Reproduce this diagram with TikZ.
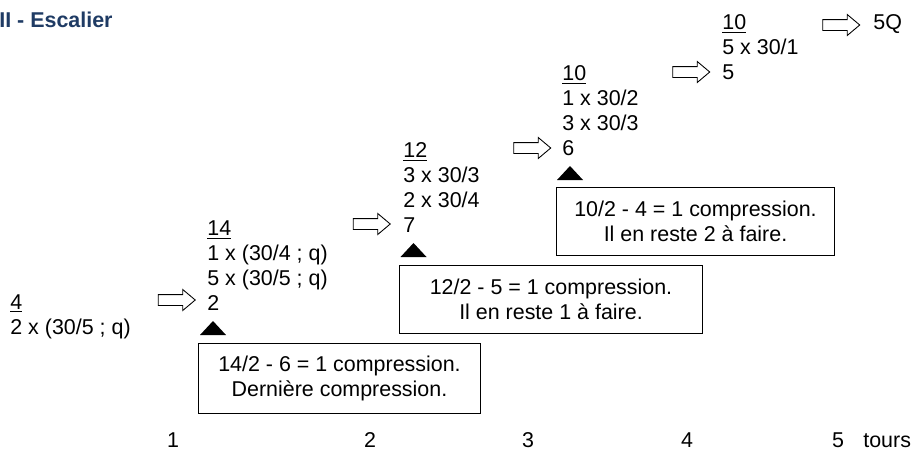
\documentclass[tikz,border=0pt]{standalone}
\usepackage{fontspec}
\setmainfont{Liberation Sans}
\usepackage{xcolor}
\usepackage{tikz}
\usetikzlibrary{arrows.meta,calc,positioning,shapes.arrows}
\definecolor{navy}{HTML}{1F3B64}
\definecolor{ink}{HTML}{000000}
\tikzset{
  every node/.style={font=\fontsize{12.2}{14.1}\selectfont,inner sep=0pt,text=ink},
  col/.style={align=left,anchor=base west},
  fl/.style={single arrow,draw=ink,line width=0.5pt,fill=white,minimum height=0.74cm,
    inner xsep=0pt,inner ysep=0.1cm,single arrow head extend=0.1cm,single arrow tip angle=80},
  note/.style={draw=ink,line width=0.6pt,align=center,anchor=north west,minimum height=1.36cm},
}
\begin{document}
\begin{tikzpicture}[x=0.02cm,y=-0.02cm,
  tick/.style={anchor=base},
  ttl/.style={anchor=base west,font=\fontsize{12.2}{13}\selectfont\bfseries,text=navy}]
  \useasboundingbox (0,0) rectangle (920,450);
  \node[ttl] (title) at (-1,27) {II - Escalier};
  % columns (anchored at the baseline of their last line)
  \node[col] (c1) at (10,334) {\underline{4}\\2 x (30/5 ; q)};
  \node[col] (c2) at (207,310) {\underline{14}\\1 x (30/4 ; q)\\5 x (30/5 ; q)\\2};
  \node[col] (c3) at (403,232) {\underline{12}\\3 x 30/3\\2 x 30/4\\7};
  \node[col] (c4) at (562,155) {\underline{10}\\1 x 30/2\\3 x 30/3\\6};
  \node[col] (c5) at (722,79) {\underline{10}\\5 x 30/1\\5};
  \node[col] (q) at (873,29) {5Q};
  % block arrows
  \node[fl] (a1) at (173.5,300) {};
  \node[fl] (a2) at (368.5,224) {};
  \node[fl] (a3) at (529,148) {};
  \node[fl] (a4) at (688,72) {};
  \node[fl] (a5) at (838,25) {};
  % triangles
  \coordinate (t2) at (213,335);
  \coordinate (t3) at (413.5,257);
  \coordinate (t4) at (570,180);
  \foreach \t in {t2,t3,t4} \fill[ink] (\t) ++(-13,0) -- ++(26,0) -- ++(-13,-14) -- cycle;
  % boxes
  \node[note,minimum width=5.64cm,minimum height=1.4cm] (b2) at (198,343) {14/2 - 6 = 1 compression.\\Dernière compression.};
  \node[note,minimum width=6.06cm] (b3) at (399,265) {12/2 - 5 = 1 compression.\\Il en reste 1 à faire.};
  \node[note,minimum width=5.56cm] (b4) at (556,187) {10/2 - 4 = 1 compression.\\Il en reste 2 à faire.};
  % axis
  \foreach \t/\x in {1/173,2/370,3/528,4/687,5/838} \node[tick] (n\t) at (\x,447) {\t};
  \node[anchor=base west] (tours) at (863,447) {tours};
\end{tikzpicture}
\end{document}
